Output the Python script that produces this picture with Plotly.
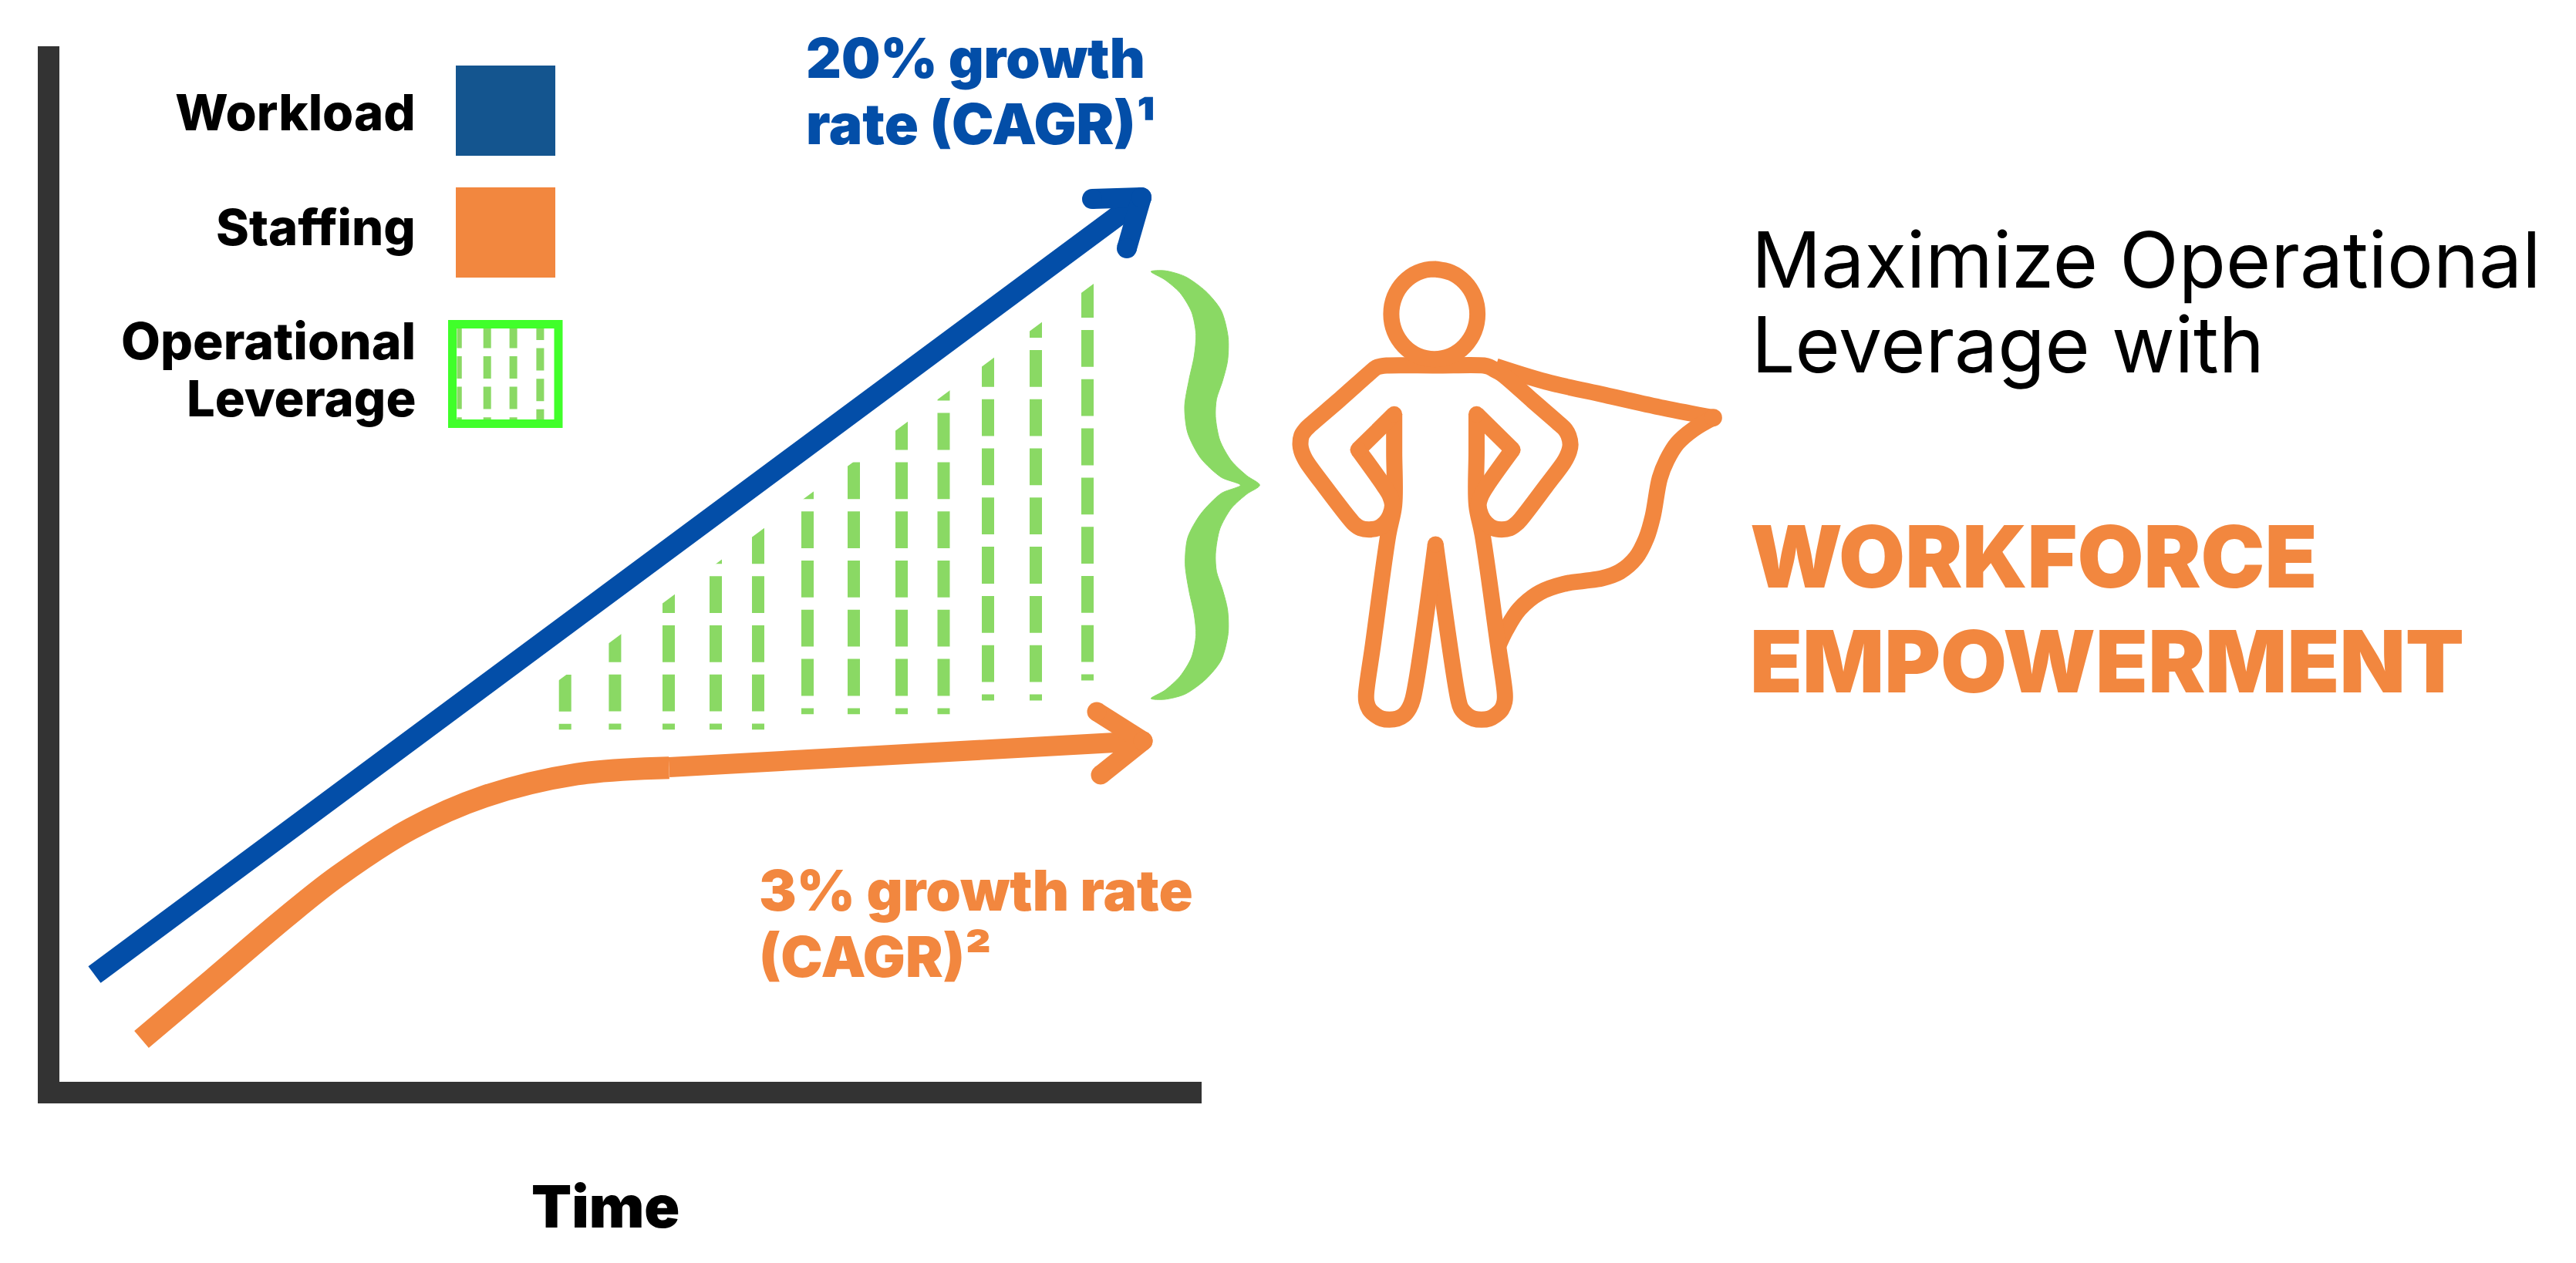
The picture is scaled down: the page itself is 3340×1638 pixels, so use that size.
import plotly.graph_objects as go

W, H = 3340, 1638
BLUE, ORANGE, GREEN = "#034EA8", "#F2873F", "#8AD964"
SWATCH_BLUE, BRIGHT = "#14558F", "#40FF2A"
AXIS = "#333333"

# ---- chart values (time units, level units above the axes)
workload_x = [45.5, 1398]
workload_y = [139, 1142]
workload_head_x = [1339, 1403, None, 1403, 1384]
workload_head_y = [1145, 1147, None, 1147, 1081]

staffing_curve_x = [106.5, 200, 293, 360, 455.6, 551, 671, 790.5]
staffing_curve_y = [55, 134, 213, 266, 328, 370, 399, 407.3]
staffing_line_x = [790.5, 1405]
staffing_line_y = [408, 442]
staffing_head_x = [1345, 1405, None, 1405, 1350]
staffing_head_y = [480, 442, None, 442, 398]

leverage_x = [655.7, 720.4, 790, 851, 906, 970, 1030, 1092, 1146.5, 1204, 1266, 1333]
leverage_top = [528.1, 592, 655.8, 719.6, 719.6, 803.6, 803.6, 867.4, 931.2, 949.1, 1012.9, 1038.8]
leverage_bottom = [456.7, 456.7, 456.7, 456.7, 456.7, 476.8, 476.8, 476.8, 476.8, 494.6, 494.6, 520.5]

# ---- legend swatches (page units)
sw_blue_x = [591, 720, 720, 591, 591]
sw_blue_y = [85, 85, 202, 202, 85]
sw_orange_x = [591, 720, 720, 591, 591]
sw_orange_y = [243, 243, 360, 360, 243]
sw_box_x = [586.5, 724, 724, 586.5, 586.5, 724]
sw_box_y = [420.5, 420.5, 549.5, 549.5, 420.5, 420.5]
sw_dash_x = [595.6, 631.7, 665.6, 700.4]
sw_dash_w = [6.3, 10, 10, 10]
sw_dash_top = [422.4, 422.4, 422.4, 451.6]
sw_last_stub_x = [700.4, 700.4]
sw_last_stub_y = [422, 441]

# ---- brace outline
brace_x = [97, 150, 230, 310, 370, 397, 395, 375, 352, 348, 365, 410, 470, 520, 470, 410, 365, 348, 352, 375,
           395, 397, 370, 310, 230, 150, 97, 150, 210, 255, 272, 265, 245, 230, 240, 290, 370, 445, 370, 290,
           240, 228, 245, 265, 272, 255, 210, 150, 97]
brace_y = [58, 55, 75, 125, 190, 280, 360, 430, 490, 550, 630, 700, 750, 782, 812, 860, 930, 1015, 1075, 1135,
           1205, 1285, 1375, 1440, 1490, 1508, 1505, 1478, 1430, 1365, 1290, 1220, 1140, 1050, 960, 880, 810, 782, 755, 690,
           605, 515, 425, 345, 270, 195, 130, 85, 58]

# ---- hero icon outline
head_x = [522, 578, 625, 657, 668, 657, 625, 578, 522, 466, 419, 387, 376, 387, 419, 466, 522, 578]
head_y = [87, 100, 138, 195, 262, 329, 386, 424, 437, 424, 386, 329, 262, 195, 138, 100, 87, 100]
right_leg_x = [526, 603, 612, 633, 655, 682, 708, 730, 750, 760, 761, 738, 685, 665, 665, 665]
right_leg_y = [1158, 1760, 1795, 1822, 1836, 1840, 1836, 1822, 1800, 1770, 1740, 1550, 1120, 1005, 800, 652]
left_leg_x = [386, 386, 386, 366, 314, 291, 292, 302, 322, 344, 370, 396, 419, 437, 449, 526]
left_leg_y = [652, 800, 1005, 1120, 1550, 1740, 1770, 1800, 1822, 1836, 1840, 1836, 1822, 1795, 1760, 1158]
torso_x = [787, 700, 680, 672, 680, 697, 722, 750, 778, 800, 815, 900, 960, 972, 979, 983, 977, 966, 950, 856, 750, 725, 708, 690,
           526, 360, 340, 325, 300, 196, 101, 85, 72, 68, 72, 79, 91, 150, 236, 250, 272, 300, 330, 355, 372, 380, 372, 351, 264]
torso_y = [790, 930, 970, 1005, 1045, 1075, 1095, 1100, 1095, 1078, 1060, 932, 840, 815, 795, 770, 735, 712, 694, 600, 494, 478, 467, 462,
           462, 462, 465, 470, 494, 600, 694, 712, 735, 770, 795, 815, 840, 932, 1060, 1078, 1095, 1100, 1095, 1075, 1045, 1005, 970, 930, 790]
hand_inner_x = [665, 787, None, 264, 386]
hand_inner_y = [652, 790, None, 790, 652]
corner_x = [526, 665, 787, 264, 386]
corner_y = [1158, 652, 790, 790, 652]
cape_top_x = [730, 900, 1100, 1300, 1467]
cape_top_y = [465, 525, 577, 628, 665]
cape_low_x = [1467, 1400, 1345, 1310, 1286, 1262, 1240, 1205, 1150, 1090, 1030, 960, 880, 810, 765, 740]
cape_low_y = [665, 710, 765, 830, 900, 1050, 1135, 1210, 1265, 1290, 1300, 1312, 1345, 1410, 1490, 1550]
cape_tip_x = [1467]
cape_tip_y = [665]

fig = go.Figure()


def line(x, y, color, width, axes=("x", "y"), dash=None, shape="linear", mode="lines", msize=0, smoothing=1):
    fig.add_trace(go.Scatter(
        x=x, y=y, mode=mode, xaxis=axes[0], yaxis=axes[1], hoverinfo="skip", showlegend=False,
        line=dict(color=color, width=width, dash=dash, shape=shape, smoothing=smoothing),
        marker=dict(color=color, size=msize, line=dict(width=0))))


# white band that trims the dashed columns along the workload line
for x, top, bottom in zip(leverage_x, leverage_top, leverage_bottom):
    line([x, x], [top, bottom], GREEN, 16, dash="47.8px,16px")
line(workload_x, workload_y, "white", 104)
line(workload_x, workload_y, BLUE, 27)
line(workload_head_x, workload_head_y, BLUE, 26, mode="lines+markers", msize=26)
line(staffing_curve_x, staffing_curve_y, ORANGE, 29, shape="spline")
line(staffing_line_x, staffing_line_y, ORANGE, 26)
line(staffing_head_x, staffing_head_y, ORANGE, 25, mode="lines+markers", msize=25)

# legend
P = ("x2", "y2")
for sx, sy, c in ((sw_blue_x, sw_blue_y, SWATCH_BLUE), (sw_orange_x, sw_orange_y, ORANGE)):
    fig.add_trace(go.Scatter(x=sx, y=sy, mode="lines", fill="toself", fillcolor=c, xaxis="x2", yaxis="y2",
                             line=dict(width=0, color=c), hoverinfo="skip", showlegend=False))
for x, w, t in zip(sw_dash_x, sw_dash_w, sw_dash_top):
    line([x, x], [t, 549], GREEN, w, P, dash="29px,10.6px")
line(sw_last_stub_x, sw_last_stub_y, GREEN, 10, P)
line(sw_box_x, sw_box_y, BRIGHT, 11, P)

# brace
fig.add_trace(go.Scatter(x=brace_x, y=brace_y, mode="lines", fill="toself", fillcolor=GREEN, xaxis="x4", yaxis="y4",
                         line=dict(width=1, color=GREEN, shape="spline", smoothing=0.8),
                         hoverinfo="skip", showlegend=False))
# hero
C = ("x3", "y3")
HW = 21
line(cape_top_x, cape_top_y, ORANGE, HW, C, shape="spline")
line(cape_low_x, cape_low_y, ORANGE, HW, C, shape="spline")
line(cape_tip_x, cape_tip_y, ORANGE, HW, C, mode="markers", msize=23)
line(right_leg_x, right_leg_y, ORANGE, HW, C, shape="spline")
line(left_leg_x, left_leg_y, ORANGE, HW, C, shape="spline")
line(torso_x, torso_y, ORANGE, HW, C, shape="spline")
line(hand_inner_x, hand_inner_y, ORANGE, HW, C)
line(corner_x, corner_y, ORANGE, HW, C, mode="markers", msize=HW)
line(head_x, head_y, ORANGE, HW, C, shape="spline")

annotations = []


def label(text, x, baseline, size, color="black", anchor="left", weight=700, family="Inter"):
    annotations.append(dict(
        text=text, x=x, y=baseline + 0.29 * size, xref="x2", yref="y2", xanchor=anchor, yanchor="bottom",
        showarrow=False, font=dict(family=family, size=size, color=color, weight=weight)))


label("Workload", 541, 168, 65, anchor="right", weight=800)
label("Staffing", 541, 317, 65, anchor="right", weight=800)
label("Operational", 541, 465, 66, anchor="right", weight=800)
label("Leverage", 541, 539, 65, anchor="right", weight=800)
label("20% growth", 1043, 99, 71, BLUE, weight=900)
label("rate (CAGR)¹", 1043, 186, 73, BLUE, weight=900)
label("3% growth rate", 982, 1180, 73, ORANGE, weight=900)
label("(CAGR)²", 982, 1266, 73, ORANGE, weight=900)
label("Time", 785, 1590, 76, anchor="center", weight=900)
label("Maximize Operational", 2269, 370, 100, weight=400)
label("Leverage with", 2269, 480, 100, weight=400)
label("WORKFORCE", 2267, 759, 111, ORANGE, weight=900)
label("EMPOWERMENT", 2267, 895, 111, ORANGE, weight=900)


def hidden(domain, rng):
    return dict(domain=domain, range=rng, visible=False, fixedrange=True)


fig.update_layout(
    width=W, height=H, autosize=False, margin=dict(l=0, r=0, t=0, b=0),
    paper_bgcolor="white", plot_bgcolor="rgba(0,0,0,0)", showlegend=False, annotations=annotations,
    xaxis=dict(domain=[77 / W, 1558 / W], range=[0, 1481], showline=True, linewidth=28, linecolor=AXIS,
               showgrid=False, zeroline=False, ticks="", showticklabels=False, fixedrange=True),
    yaxis=dict(domain=[(H - 1403) / H, (H - 60) / H], range=[0, 1343], showline=True, linewidth=28, linecolor=AXIS,
               showgrid=False, zeroline=False, ticks="", showticklabels=False, fixedrange=True),
    xaxis2=dict(anchor="y2", **hidden([0, 1], [0, W])),
    yaxis2=dict(anchor="x2", **hidden([0, 1], [H, 0])),
    xaxis3=dict(anchor="y3", **hidden([1660 / W, 2260 / W], [0, 1568])),
    yaxis3=dict(anchor="x3", **hidden([(H - 970) / H, (H - 320) / H], [1950, 0])),
    xaxis4=dict(anchor="y4", **hidden([1460 / W, 1680 / W], [0, 660])),
    yaxis4=dict(anchor="x4", **hidden([(H - 930) / H, (H - 330) / H], [1568, 0])),
)
fig.write_html("out.html", config=dict(displayModeBar=False),
               post_script="document.body.style.margin='0';document.documentElement.style.overflow='hidden';")
